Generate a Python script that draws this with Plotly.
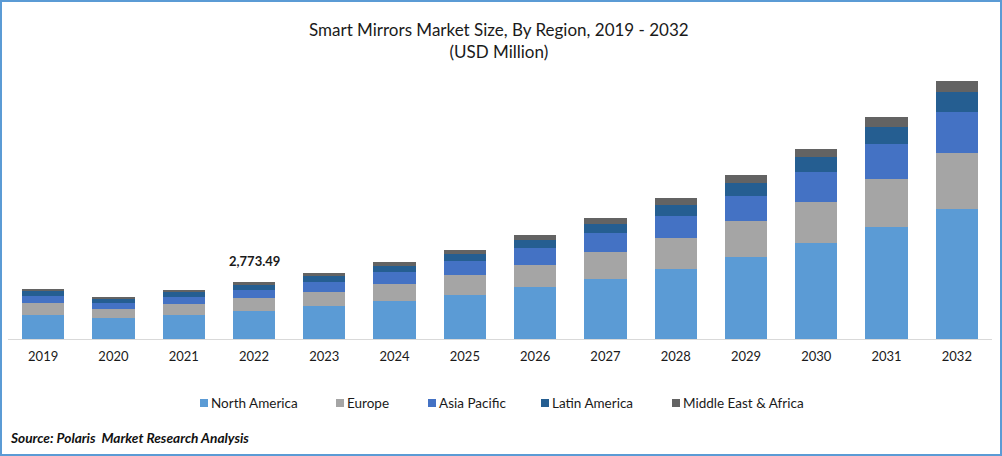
import plotly.graph_objects as go

W = 1002
H = 456

years = ['2019', '2020', '2021', '2022', '2023', '2024', '2025', '2026', '2027', '2028', '2029', '2030', '2031', '2032']

north_america = [1168, 1022, 1168, 1362, 1606, 1849, 2141, 2530, 2920, 3406, 3990, 4671, 5450, 6326]
europe = [584, 438, 535, 633, 681, 827, 973, 1071, 1314, 1508, 1752, 1995, 2336, 2725]
asia_pacific = [341, 292, 341, 389, 487, 584, 681, 827, 925, 1071, 1217, 1460, 1703, 1995]
latin_america = [243, 195, 243, 243, 292, 292, 341, 389, 438, 535, 633, 730, 827, 973]
middle_east_africa = [97, 97, 97, 146.49, 146, 195, 195, 243, 292, 341, 389, 389, 487, 535]

regions = ['North America', 'Europe', 'Asia Pacific', 'Latin America', 'Middle East & Africa']
values = [north_america, europe, asia_pacific, latin_america, middle_east_africa]
colors = ['#5B9BD5', '#A5A5A5', '#4472C4', '#255E91', '#636363']

# left edge of each legend swatch, in page pixels
legend_x = [200, 336, 428, 541, 672]

FONT = 'Lato, Carlito, Calibri, sans-serif'
TEXT = '#1a1a1a'

# plot area in page pixels
L, R, T, B = 8, 10, 70, 117
PW = W - L - R
PH = H - T - B


def px(x):
    return (x - L) / PW


def py(y):
    return (H - B - y) / PH


fig = go.Figure()
for name, vals, col in zip(regions, values, colors):
    fig.add_trace(go.Bar(x=years, y=vals, name=name, marker_color=col, marker_line_width=0, showlegend=False))

fig.update_layout(
    barmode='stack',
    bargap=0.4,
    width=W,
    height=H,
    margin=dict(l=L, r=R, t=T, b=B),
    paper_bgcolor='white',
    plot_bgcolor='white',
    font=dict(family=FONT, color=TEXT, size=13),
    xaxis=dict(type='category', showgrid=False, ticks='', showline=True, linecolor='#D9D9D9', linewidth=1,
               tickfont=dict(size=13, color=TEXT), automargin=False, ticklabelstandoff=5),
    yaxis=dict(visible=False, range=[0, 13090], fixedrange=True),
)

# title, two lines
fig.add_annotation(text='Smart Mirrors Market Size, By Region, 2019 - 2032<br>(USD Million)',
                   xref='paper', yref='paper', x=px(499), y=py(40), xanchor='center', yanchor='middle',
                   showarrow=False, font=dict(size=17, color=TEXT), align='center')

# value label on 2022 (category axis: position is the index of the year)
total_2022 = sum(v[3] for v in values)
fig.add_annotation(x=years.index('2022'), y=total_2022, text='<b>{:,.2f}</b>'.format(total_2022), showarrow=False,
                   yanchor='bottom', yshift=11, font=dict(size=13, color=TEXT))

# legend drawn by hand so the uneven spacing of the original holds
for name, col, lx in zip(regions, colors, legend_x):
    fig.add_shape(type='rect', xref='paper', yref='paper', x0=px(lx), x1=px(lx + 8), y0=py(407), y1=py(399),
                  fillcolor=col, line_width=0)
    fig.add_annotation(text=name, xref='paper', yref='paper', x=px(lx + 9), y=py(403), xanchor='left',
                       yanchor='middle', showarrow=False, font=dict(size=13.5, color=TEXT))

fig.add_annotation(text='<b><i>Source: Polaris  Market Research Analysis</i></b>', xref='paper', yref='paper',
                   x=px(8), y=py(437), xanchor='left', yanchor='middle', showarrow=False,
                   font=dict(size=13.7, color='#111111'))

# blue frame round the whole picture
fig.add_shape(type='rect', xref='paper', yref='paper', x0=px(1), x1=px(W - 1), y0=py(H - 1), y1=py(1),
              line=dict(color='#5B9BD5', width=2), fillcolor='rgba(0,0,0,0)')

fig.write_html('out.html', post_script="document.body.style.margin='0';document.body.style.overflow='hidden';",
               config=dict(displayModeBar=False))
